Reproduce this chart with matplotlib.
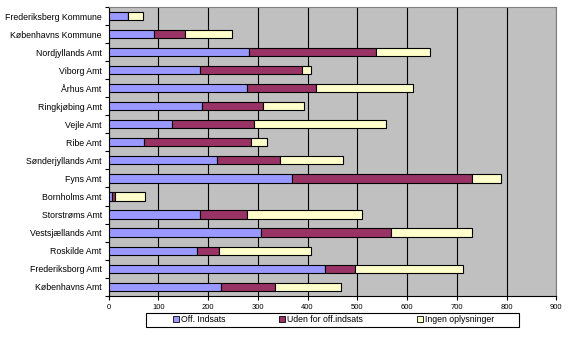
#! /usr/bin/env python3

"""Stacked horizontal bars per amt, Excel style"""

import matplotlib
matplotlib.use('Agg')
import matplotlib.pyplot as plt
from matplotlib.lines import Line2D
from matplotlib.patches import Rectangle
import numpy as np

plt.rcParams['font.family'] = ['Liberation Sans', 'DejaVu Sans']

# Bottom to top, as drawn
categories = ['Københavns Amt', 'Frederiksborg Amt', 'Roskilde Amt', 'Vestsjællands Amt',
              'Storstrøms Amt', 'Bornholms Amt', 'Fyns Amt', 'Sønderjyllands Amt',
              'Ribe Amt', 'Vejle Amt', 'Ringkjøbing Amt', 'Århus Amt', 'Viborg Amt',
              'Nordjyllands Amt', 'Københavns Kommune', 'Frederiksberg Kommune']
off_indsats = [225, 435, 178, 307, 184, 7, 369, 218, 71, 128, 188, 278, 184, 282, 92, 39]
uden_off = [110, 60, 44, 260, 94, 6, 361, 127, 215, 164, 122, 138, 204, 256, 62, 0]
ingen_oplys = [132, 217, 185, 163, 231, 60, 58, 126, 32, 266, 83, 196, 18, 109, 94, 31]
series_names = ['Off. Indsats', 'Uden for off.indsats', 'Ingen oplysninger']
series_colours = ['#9999ff', '#993366', '#ffffcc']
xticks = list(range(0, 1000, 100))

fig = plt.figure(figsize=(5.7, 3.42), dpi=100)
ax = fig.add_axes([0.1905, 0.1355, 0.7855, 0.8435])
ax.set_facecolor('#c0c0c0')

ypos = np.arange(len(categories))
left = np.zeros(len(categories))
for vals, colour in zip((off_indsats, uden_off, ingen_oplys), series_colours):
    ax.barh(ypos, vals, left=left, height=0.45, color=colour, edgecolor='black',
            linewidth=0.8, zorder=3)
    left += np.array(vals)

ax.set_xlim(0, 900)
ax.set_ylim(-0.5, len(categories) - 0.5)
ax.set_xticks(xticks)
ax.set_xticklabels([str(t) for t in xticks], fontsize=5.5)
ax.set_yticks(ypos)
ax.set_yticklabels(categories, fontsize=6.3)
ax.set_yticks(np.arange(len(categories) + 1) - 0.5, minor=True)
ax.tick_params(axis='y', which='major', length=0, pad=5)
ax.tick_params(axis='y', which='minor', length=3, width=0.8, direction='out')
ax.tick_params(axis='x', length=3, width=0.8, direction='out', pad=3)

ax.grid(axis='x', color='black', linewidth=0.8, zorder=1)
ax.set_axisbelow(True)
for side in ('left', 'bottom'):
    ax.spines[side].set_color('black')
    ax.spines[side].set_linewidth(0.8)
for side in ('top', 'right'):
    ax.spines[side].set_color('#808080')
    ax.spines[side].set_linewidth(0.8)

# Legend, with the box drawn separately so it can be wider than the entries
handles = [Line2D([], [], linestyle='none', marker='s', markersize=4.5,
                  markerfacecolor=c, markeredgecolor='black', markeredgewidth=0.6)
           for c in series_colours]
fig.legend(handles, series_names, loc='center', ncol=3, frameon=False,
           bbox_to_anchor=(0.585, 0.0655), fontsize=6.3, handlelength=0.8,
           handletextpad=0.15, columnspacing=6.1)
fig.add_artist(Rectangle((146 / 570, 1 - 327 / 342), 373 / 570, 14 / 342,
                         transform=fig.transFigure, fill=False, edgecolor='black',
                         linewidth=0.8))

fig.savefig('out.png', dpi=100)
plt.close(fig)
